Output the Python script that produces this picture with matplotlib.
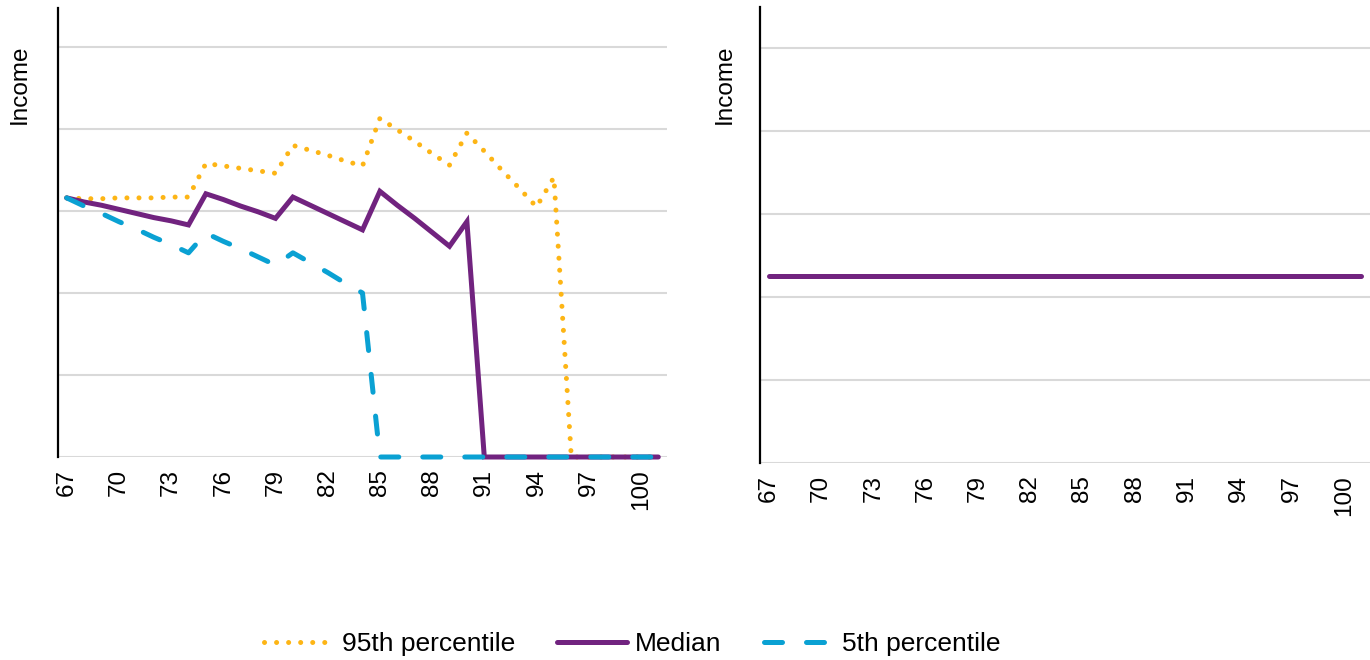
import matplotlib
matplotlib.use("Agg")
import matplotlib.pyplot as plt
import numpy as np

plt.rcParams['font.family'] = ['Liberation Sans', 'DejaVu Sans']

ages = list(range(67, 102))
tick_ages = list(range(67, 101, 3))

p95 = [3.16, 3.15, 3.15, 3.16, 3.16, 3.16, 3.17, 3.17,
       3.58, 3.55, 3.52, 3.49, 3.46,
       3.80, 3.74, 3.68, 3.61, 3.55,
       4.13, 3.99, 3.85, 3.70, 3.56,
       3.95, 3.73, 3.50, 3.28, 3.05,
       3.41, 0, 0, 0, 0, 0, 0]
median = [3.16, 3.11, 3.07, 3.02, 2.97, 2.92, 2.88, 2.83,
          3.21, 3.14, 3.06, 2.99, 2.91,
          3.17, 3.07, 2.97, 2.87, 2.77,
          3.24, 3.07, 2.91, 2.74, 2.57,
          2.87, 0, 0, 0, 0, 0, 0, 0, 0, 0, 0, 0]
p5 = [3.16, 3.06, 2.97, 2.87, 2.78, 2.68, 2.59, 2.49,
      2.73, 2.63, 2.54, 2.44, 2.34,
      2.49, 2.37, 2.25, 2.12, 2.00,
      0, 0, 0, 0, 0, 0, 0, 0, 0, 0, 0, 0, 0, 0, 0, 0, 0]
median_right = [2.25] * len(ages)

C95 = '#FDB515'
CMED = '#71237F'
C5 = '#0AA1D3'
GRID = '#D9D9D9'

fig = plt.figure(figsize=(13.7, 6.6), dpi=100)
axL = fig.add_axes([58/1370, 1-457/660, 609/1370, 449/660])
axR = fig.add_axes([760/1370, 1-463/660, 610/1370, 456/660])

def style(ax, ytop):
    ax.set_xlim(66.5, 101.5)
    ax.set_ylim(0, ytop)
    ax.set_yticks(range(6))
    ax.set_xticks(tick_ages)
    ax.set_xticklabels([str(a) for a in tick_ages], rotation=90, va='top', ha='center', fontsize=17.5)
    ax.tick_params(left=False, bottom=False, labelleft=False, pad=5)
    ax.grid(axis='y', color=GRID, lw=1.5)
    ax.set_axisbelow(True)
    for s in ['top', 'right', 'bottom']:
        ax.spines[s].set_visible(False)
    ax.spines['left'].set_color('black')
    ax.spines['left'].set_linewidth(1.6)

style(axL, 449/82)
style(axR, 456/83)

lw = 3.6
l95, = axL.plot(ages, p95, color=C95, lw=3.6, dashes=(0.01, 2.4), dash_capstyle='round',
                clip_on=False, label='95th percentile')
lmed, = axL.plot(ages, median, color=CMED, lw=lw, solid_joinstyle='miter', solid_capstyle='round',
                 clip_on=False, label='Median')
l5, = axL.plot(ages, p5, color=C5, lw=lw, dashes=(3.6, 4.8), dash_capstyle='round',
               clip_on=False, label='5th percentile')

axR.plot(ages, median_right, color=CMED, lw=lw, solid_capstyle='round', clip_on=False)

fig.text(20/1370, 1-84/660, 'Income', rotation=90, ha='center', va='center', fontsize=17.5)
fig.text(725/1370, 1-84/660, 'Income', rotation=90, ha='center', va='center', fontsize=17.5)

fig.legend(handles=[l95, lmed, l5], loc='center', bbox_to_anchor=(632/1370, 1-644/660),
           ncol=3, frameon=False, fontsize=19, handlelength=2.65, handletextpad=0.3,
           columnspacing=1.6)

fig.savefig('out.png', dpi=100)
